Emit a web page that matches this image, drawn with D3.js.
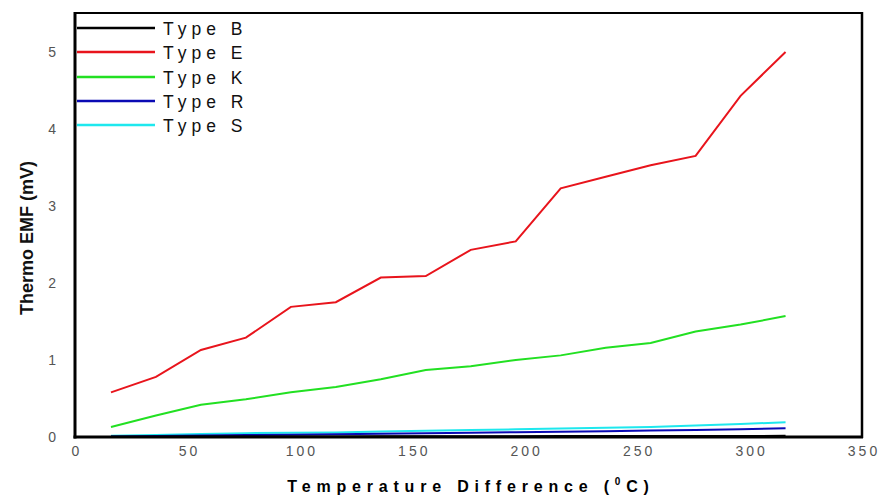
<!DOCTYPE html>
<html><head><meta charset="utf-8">
<script src="https://cdn.jsdelivr.net/npm/d3@7"></script>
<style>body{margin:0;background:#fff}svg{display:block}text{font-family:"Liberation Sans",Arial,sans-serif}</style>
</head><body>
<svg id="c" width="881" height="498"></svg>
<script>
const tempDiff = [16,36,56,76,96,116,136,156,176,196,216,236,256,276,296,316];
const typeB = [0.003,0.004,0.005,0.006,0.007,0.008,0.009,0.010,0.010,0.011,0.012,0.012,0.013,0.014,0.014,0.015];
const typeE = [0.58,0.78,1.13,1.29,1.69,1.75,2.07,2.09,2.43,2.54,3.23,3.38,3.53,3.65,4.43,5.00];
const typeK = [0.13,0.28,0.42,0.49,0.58,0.65,0.75,0.87,0.92,1.00,1.06,1.16,1.22,1.37,1.46,1.57];
const typeR = [0.005,0.012,0.02,0.025,0.03,0.035,0.042,0.048,0.055,0.062,0.068,0.075,0.083,0.09,0.10,0.115];
const typeS = [0.015,0.025,0.04,0.05,0.055,0.06,0.07,0.08,0.09,0.10,0.11,0.12,0.13,0.15,0.17,0.19];
const seriesNames = ["Type B","Type E","Type K","Type R","Type S"];
const seriesColors = ["#000000","#e8141c","#22e022","#0a0ab4","#1ee8ee"];
const xTicks = [0,50,100,150,200,250,300,350];
const yTicks = [0,1,2,3,4,5];

const series = [typeB,typeE,typeK,typeR,typeS];
const svg = d3.select("#c");
const L=75,R=862,T=13,B=437;
const x = d3.scaleLinear().domain([0,350]).range([L,R]);
const y = d3.scaleLinear().domain([0,5.506]).range([B,T]);

const line = d3.line().x((d,i)=>x(tempDiff[i])).y(d=>y(d));
const order=[4,3,2,1,0];
order.forEach(k=>{
  svg.append("path").attr("d",line(series[k])).attr("fill","none")
    .attr("stroke",seriesColors[k]).attr("stroke-width",2);
});

// frame
svg.append("line").attr("x1",L).attr("x2",R).attr("y1",T).attr("y2",T).attr("stroke","#000").attr("stroke-width",2);
svg.append("line").attr("x1",R).attr("x2",R).attr("y1",T-1).attr("y2",B+1).attr("stroke","#000").attr("stroke-width",2.5);
svg.append("line").attr("x1",L).attr("x2",L).attr("y1",T-1).attr("y2",B+1.5).attr("stroke","#000").attr("stroke-width",3);
svg.append("line").attr("x1",L-1.5).attr("x2",R+1).attr("y1",B).attr("y2",B).attr("stroke","#000").attr("stroke-width",3);

const gx = svg.append("g").attr("transform",`translate(0,${B})`)
  .call(d3.axisBottom(x).tickValues(xTicks).tickSize(0).tickPadding(9).tickFormat(d3.format("d")));
gx.select(".domain").remove();
gx.selectAll("text").attr("font-size",14).attr("fill","#555").style("letter-spacing","3px")
  .attr("font-family","Liberation Sans, Arial, sans-serif").attr("dx","1.5px");

const gy = svg.append("g").attr("transform",`translate(${L},0)`)
  .call(d3.axisLeft(y).tickValues(yTicks).tickSize(0).tickPadding(19).tickFormat(d3.format("d")));
gy.select(".domain").remove();
gy.selectAll("text").attr("font-size",14).attr("fill","#555").attr("font-family","Liberation Sans, Arial, sans-serif");

const xt = svg.append("text").attr("x",471).attr("y",492).attr("text-anchor","middle")
  .attr("font-size",16).attr("font-weight","bold").style("letter-spacing","5.8px");
xt.append("tspan").text("Temperature Difference (");
xt.append("tspan").text("0").attr("font-size",10).attr("dy",-7);
xt.append("tspan").text("C)").attr("dy",7);

svg.append("text").attr("transform","translate(33,238) rotate(-90)").attr("text-anchor","middle")
  .attr("font-size",18).attr("font-weight","bold").attr("fill","#111").text("Thermo EMF (mV)");

const legY=[28,52,77,101,125];
seriesNames.forEach((n,i)=>{
  svg.append("line").attr("x1",77).attr("x2",155).attr("y1",legY[i]).attr("y2",legY[i])
    .attr("stroke",seriesColors[i]).attr("stroke-width",2.5);
  svg.append("text").attr("x",163).attr("y",legY[i]+6.5).attr("font-size",17.5)
    .style("letter-spacing","5px").attr("fill","#111").text(n);
});
</script>
</body></html>
